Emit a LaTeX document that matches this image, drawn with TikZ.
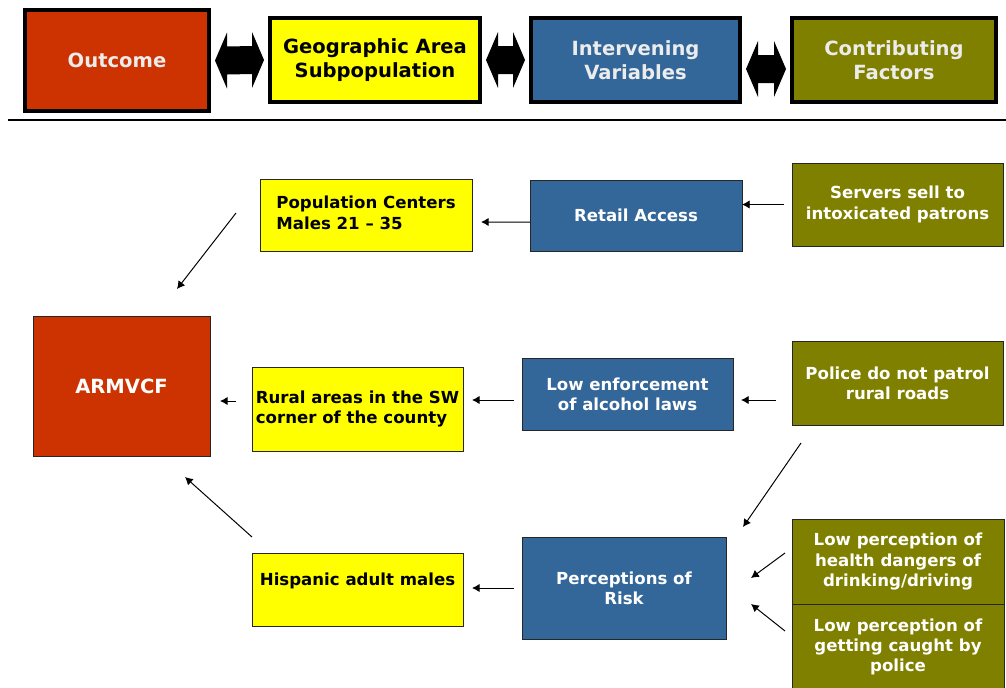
\documentclass[tikz,border=0pt]{standalone}
\usepackage{fontspec}
\setmainfont{DejaVu Sans}
\usepackage{tikz}
\usetikzlibrary{arrows.meta,calc}
\usepackage{xcolor}
\definecolor{rust}{RGB}{204,51,0}
\definecolor{steel}{RGB}{51,102,153}
\definecolor{oliv}{RGB}{128,128,0}
\definecolor{lemon}{RGB}{255,255,0}
\newlength\pxl
\setlength\pxl{0.025cm}

\begin{document}
\begin{tikzpicture}
    [   x = 0.025cm, y = -0.025cm
    ,   > = {Latex[length=5.5pt,width=6pt]}
    ,   sz/.style 2 args =
        {   minimum width = #1\pxl
        ,   minimum height = #2\pxl
        }
    ,   head/.style =
        {   draw
        ,   line width = 2.8pt
        ,   inner sep = 0mm
        ,   outer sep = 0mm
        ,   align = center
        ,   text = gray!15
        ,   font = \fontsize{13.9}{17}\selectfont\bfseries
        }
    ,   box/.style =
        {   draw = black!85
        ,   line width = 0.7pt
        ,   inner sep = 0mm
        ,   outer sep = 0mm
        ,   align = center
        ,   text = white
        ,   font = \fontsize{11.8}{14.5}\selectfont\bfseries
        }
    ,   ybox/.style = {box, fill = lemon, text = black, align = left}
    ,   link/.style = {->, line width = 0.7pt}
    ]
    \useasboundingbox (0,0) rectangle (1006,687);

    % legend row
    \node[head, fill=rust,   sz={184}{101}] (out)  at (117,60.5) {Outcome};
    \node[head, fill=lemon,  sz={210}{84}, text=black] (geo) at (375,60) {Geographic Area\\Subpopulation};
    \node[head, fill=steel,  sz={209}{84}] (ivar) at (635.5,60) {Intervening\\Variables};
    \node[head, fill=oliv,   sz={204}{84}] (cfac) at (894,60) {Contributing\\Factors};
    \foreach\a/\b/\s in {out/geo/0, geo/ivar/0, ivar/cfac/9}
    {   \fill ($(\a.east)+(6,\s)$) -- ++(12,-28) -- ++(0,14)
            -- ($(\b.west)+(-18,\s-14)$) -- ++(0,-14) -- ++(12,28) -- ++(-12,28) -- ++(0,-14)
            -- ($(\a.east)+(18,\s+14)$) -- ++(0,14) -- cycle;
    }
    \draw[line width=2.1pt] (8,120) -- (1006,120);

    % model
    \node[ybox, sz={212}{72}] (popc) at (366,215)
        {\raisebox{11\pxl}{\begin{tabular}{@{}l@{}}Population Centers\\Males 21 -- 35\end{tabular}}};
    \node[box, fill=steel, sz={212}{71}] (retl) at (636,215.5) {Retail Access};
    \node[box, fill=oliv, sz={211}{83}] (srvr) at (897.5,204.5) {Servers sell to\\intoxicated patrons};
    \node[box, fill=rust, sz={177}{140}, font=\fontsize{13.9}{17}\selectfont\bfseries] (arm) at (121.5,386) {ARMVCF};
    \node[ybox, sz={211}{84}] (rurl) at (357.5,409) {Rural areas in the SW\\corner of the county};
    \node[box, fill=steel, sz={211}{72}] (lenf) at (627.5,394) {Low enforcement\\of alcohol laws};
    \node[box, fill=oliv, sz={211}{84}] (pol) at (897.5,383) {Police do not patrol\\rural roads};
    \node[ybox, sz={211}{73}] (hisp) at (357.5,589.5) {\raisebox{20\pxl}{Hispanic adult males}};
    \node[box, fill=steel, sz={204}{102}] (perc) at (624,588) {Perceptions of\\Risk};
    \node[box, fill=oliv, sz={212}{85}] (hlth) at (898,561.5) {Low perception of\\health dangers of\\drinking/driving};
    \node[box, fill=oliv, sz={212}{86}] (caught) at (898,647) {Low perception of\\getting caught by\\police};

    \draw[link] ($(srvr.west)+(-8,0)$) -- (srvr.west -| retl.east);
    \draw[link] ($(retl.west)+(0,6.5)$) -- ($(popc.east)+(9,7)$);
    \draw[link] ($(popc.west)+(-24,-2)$) -- ($(arm.north)+(55.5,-27)$);
    \draw[link] ($(pol.west)+(-16,17)$) -- ($(lenf.east)+(8,6)$);
    \draw[link] ($(lenf.west)+(-8,6)$) -- ($(rurl.east)+(9,-9)$);
    \draw[link] ($(rurl.west)+(-16,-8)$) -- ($(arm.east)+(10,15)$);
    \draw[link] ($(pol.south west)+(9,18)$) -- ($(perc.north east)+(17,-10)$);
    \draw[link] ($(hlth.west)+(-7,-8.5)$) -- ($(perc.east)+(25,-10)$);
    \draw[link] ($(caught.west)+(-7,-16)$) -- ($(perc.east)+(25,16)$);
    \draw[link] ($(perc.west)+(-8,0)$) -- ($(hisp.east)+(9,-1.5)$);
    \draw[link] ($(hisp.north west)+(0,-16)$) -- ($(arm.south)+(63.5,21)$);

\end{tikzpicture}
\end{document}
